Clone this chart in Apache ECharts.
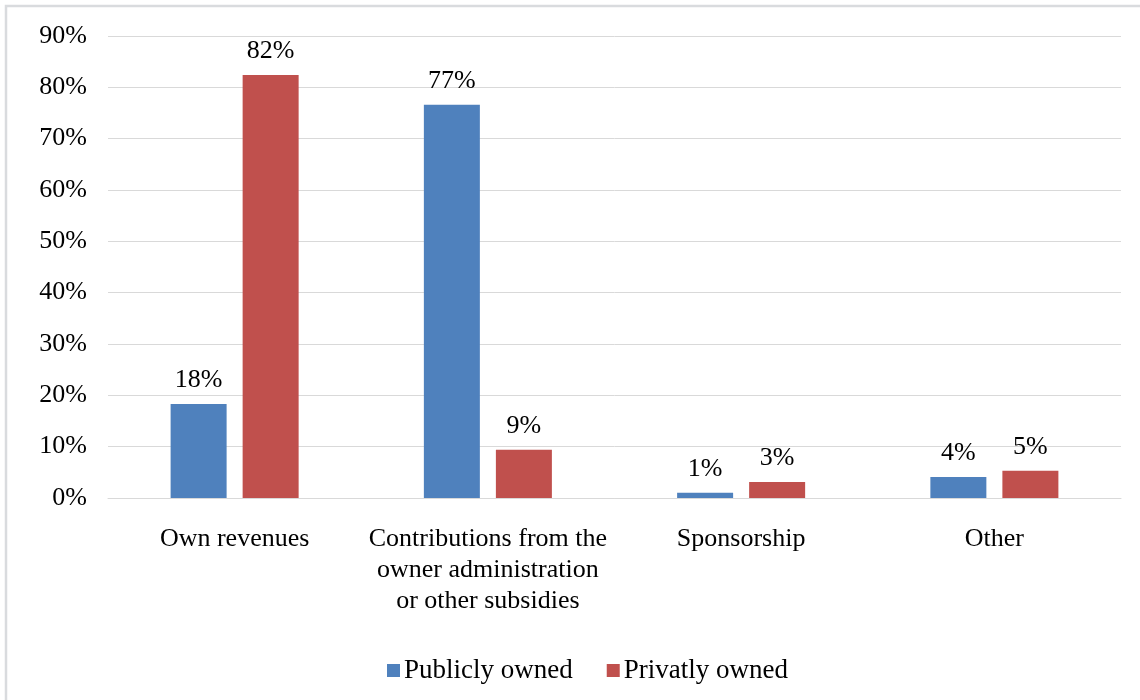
<!DOCTYPE html>
<html>
<head>
<meta charset="utf-8">
<script src="https://cdn.jsdelivr.net/npm/echarts@6/dist/echarts.min.js"></script>
<style>html,body{margin:0;padding:0;background:#fff}#c{width:1140px;height:700px}</style>
</head>
<body>
<div id="c"></div>
<script>
const categories = ["Own revenues", "Contributions from the\nowner administration\nor other subsidies", "Sponsorship", "Other"];
const seriesNames = ["Publicly owned", "Privatly owned"];
const publicly = [18.3, 76.6, 1.0, 4.1];
const privately = [82.4, 9.4, 3.1, 5.3];
const yTicks = [0, 90, 10];

const FONT = '"Liberation Serif", "Times New Roman", serif';
const chart = echarts.init(document.getElementById('c'), null, {renderer: 'canvas'});
const labelCfg = {
  show: true, position: 'top', distance: 11,
  fontFamily: FONT, fontSize: 26, color: '#000',
  formatter: p => Math.round(p.value) + '%'
};
chart.setOption({
  animation: false,
  backgroundColor: '#fff',
  graphic: [{
    type: 'rect', shape: {x: 6, y: 6, width: 1200, height: 800},
    style: {fill: 'none', stroke: '#D9DBDE', lineWidth: 2.5}, silent: true, z: -1
  }],
  grid: {left: 108, right: 19, top: 36, bottom: 202, containLabel: false},
  legend: {
    data: seriesNames, left: 382, top: 652, itemWidth: 13, itemHeight: 13, itemGap: 34,
    icon: 'rect',
    textStyle: {fontFamily: FONT, fontSize: 27, color: '#000', padding: [0, 0, 0, -1]}
  },
  xAxis: {
    type: 'category', data: categories,
    axisLine: {show: true, lineStyle: {color: '#D9D9D9', width: 1}},
    axisTick: {show: false},
    axisLabel: {fontFamily: FONT, fontSize: 26, color: '#000', margin: 26, lineHeight: 31, interval: 0}
  },
  yAxis: {
    type: 'value', min: yTicks[0], max: yTicks[1], interval: yTicks[2],
    axisLine: {show: false}, axisTick: {show: false},
    splitLine: {lineStyle: {color: '#D9D9D9', width: 1}},
    axisLabel: {fontFamily: FONT, fontSize: 26, color: '#000', margin: 21, formatter: v => v + '%'}
  },
  series: [
    {name: seriesNames[0], type: 'bar', data: publicly, barWidth: 56, barGap: '28.6%',
     itemStyle: {color: '#4F81BD'}, label: labelCfg},
    {name: seriesNames[1], type: 'bar', data: privately, barWidth: 56, barGap: '28.6%',
     itemStyle: {color: '#C0504D'}, label: labelCfg}
  ]
});
</script>
</body>
</html>
